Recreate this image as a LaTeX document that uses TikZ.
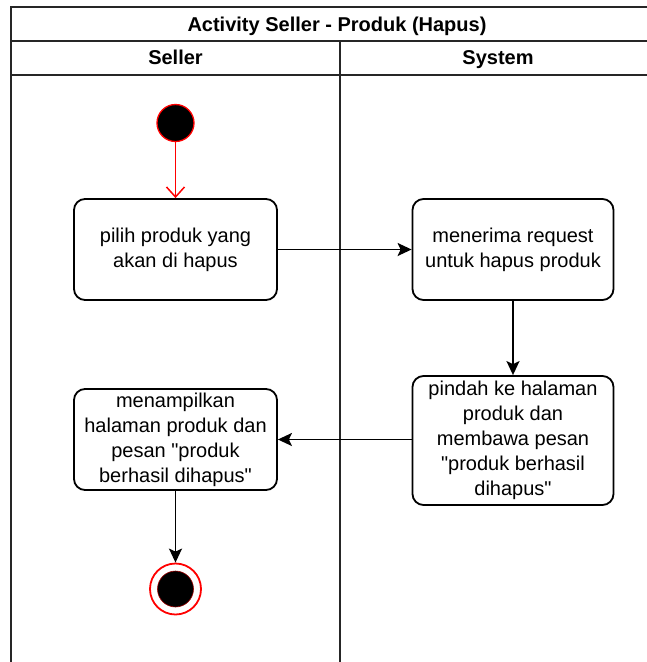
\documentclass[tikz,border=0pt]{standalone}
\usepackage{fontspec}
% plain family: no TeX ligature mapping, so " stays a straight quote
\newfontfamily\lsans{Liberation Sans}
\usetikzlibrary{arrows.meta}

\begin{document}
\begin{tikzpicture}[x=1pt,y=-1pt,
  lane/.style={line width=2pt,draw=black!85},
  hdr/.style={font=\lsans\fontsize{20}{24}\selectfont\bfseries,anchor=base},
  act/.style={draw,line width=1.8pt,rounded corners=11pt,align=center,
    font=\lsans\fontsize{20}{25}\selectfont,inner sep=0pt},
  flow/.style={line width=1.8pt,-{Stealth[length=14pt,width=13pt,inset=3pt]}},
  initflow/.style={line width=1.5pt,draw=red,-{Straight Barb[length=10pt,width=18pt]}},
  startdot/.style={circle,fill=black,draw=red,line width=1.3pt,minimum size=37pt,inner sep=0pt},
  enddot/.style={circle,draw=red,line width=1.8pt,minimum size=51pt,inner sep=0pt},
  enddotin/.style={circle,fill=black,draw=red!60!black,line width=0.6pt,minimum size=36pt,inner sep=0pt}]
  \useasboundingbox (0,0) rectangle (647,662);

  % swimlane frame
  \begin{scope}
    \clip (0,0) rectangle (647,662);
    \draw[lane] (11,662) -- (11,7) -- (663,7) -- (663,662);
    \draw[lane] (11,41) -- (663,41);
    \draw[lane] (11,75) -- (663,75);
    \draw[lane] (340,41) -- (340,662);
  \end{scope}
  \node[hdr] (title) at (337,31) {Activity Seller - Produk (Hapus)};
  \node[hdr] (seller) at (175.5,64.5) {Seller};
  \node[hdr] (system) at (498,64.5) {System};

  % activities
  \node[startdot] (start) at (175.5,123) {};
  \node[act,minimum width=203pt,minimum height=101pt] (pilih) at (175.5,249.5)
    {pilih produk yang\\akan di hapus};
  \node[act,minimum width=201pt,minimum height=101pt] (terima) at (513,249.5)
    {menerima request\\untuk hapus produk};
  \node[act,minimum width=201pt,minimum height=129pt] (pindah) at (513,440.5)
    {pindah ke halaman\\produk dan\\membawa pesan\\"produk berhasil\\dihapus"};
  \node[act,minimum width=203pt,minimum height=101pt] (tampil) at (175.5,439.5)
    {menampilkan\\halaman produk dan\\pesan "produk\\berhasil dihapus"};
  \node[enddot] (end) at (175.5,589) {};
  \node[enddotin] (endin) at (end.center) {};

  % control flow
  \draw[initflow] (start) -- (pilih);
  \draw[flow] (pilih) -- (terima);
  \draw[flow] (terima) -- (pindah);
  \draw[flow] (pindah.west |- tampil.east) -- (tampil.east);
  \draw[flow] (tampil) -- (end);
\end{tikzpicture}
\end{document}
